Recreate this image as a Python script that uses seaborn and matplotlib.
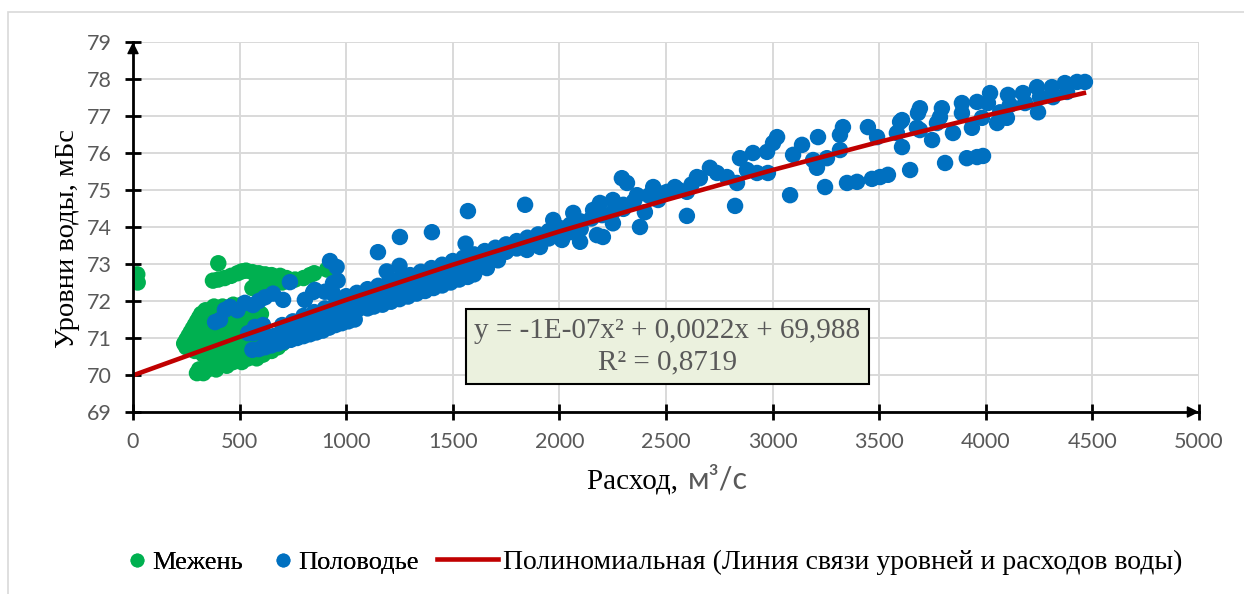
import numpy as np
import pandas as pd
import matplotlib.pyplot as plt
import seaborn as sns
from matplotlib.lines import Line2D
from matplotlib.patches import Rectangle

# --- data (Q, m3/s ; H, m) ---
# Межень (low water)
mezhen_isolated = [(20, 72.72), (22, 72.5)]
mezhen_upper = [(400, 73.02), (375, 72.55), (400, 72.58), (430, 72.62), (460, 72.68),
                (490, 72.75), (510, 72.8), (530, 72.82), (560, 72.78), (590, 72.75),
                (620, 72.72), (650, 72.7), (690, 72.68), (720, 72.62), (760, 72.58),
                (800, 72.62), (830, 72.7), (850, 72.75), (580, 72.5), (600, 72.45),
                (560, 72.35), (620, 72.55), (660, 72.55), (700, 72.5), (910, 72.85)]
mezhen_blob_rows = {
    70.05: [300, 330],
    70.15: [310, 350, 390],
    70.25: [360, 400, 440],
    70.35: [390, 430, 470, 510],
    70.45: [380, 420, 460, 500, 540, 580],
    70.55: [330, 370, 410, 450, 490, 530, 570, 610],
    70.65: [290, 330, 370, 410, 450, 490, 530, 570, 610, 650],
    70.75: [250, 290, 330, 370, 410, 450, 490, 530, 570, 620, 680],
    70.85: [240, 280, 320, 360, 400, 440, 480, 520, 560, 600, 650, 700],
    70.95: [250, 290, 330, 370, 410, 450, 490, 530, 570],
    71.05: [260, 300, 340, 380, 420, 460, 500, 540],
    71.15: [270, 310, 350, 390, 430, 470, 510],
    71.25: [280, 320, 360, 400, 440, 480, 520],
    71.35: [290, 330, 370, 410, 450, 490],
    71.45: [300, 340, 380, 420, 460, 500, 540],
    71.55: [310, 350, 390, 430, 470, 510, 550, 590],
    71.65: [320, 360, 400, 440, 480, 520, 560, 600],
    71.75: [340, 380, 420, 460, 500, 540, 580],
    71.85: [380, 420, 460, 500, 540],
    71.9: [470, 510],
}
mezhen_tail = [(760, 71.2), (820, 71.35), (880, 71.5), (950, 71.7), (1000, 71.85),
               (1050, 71.9), (1080, 71.84), (1110, 71.9)]

# Половодье (flood)
polov_low_chain = [(385, 71.43), (408, 71.49), (431, 71.76), (455, 71.84), (490, 71.75),
                   (525, 71.95), (563, 71.89), (590, 72.0), (619, 72.1), (657, 72.2),
                   (704, 72.03), (736, 72.51), (806, 72.03), (845, 72.24), (853, 72.3),
                   (924, 73.08), (955, 72.92), (938, 72.48), (938, 72.2), (900, 72.25)]
polov_mid_chain = [(540, 71.13), (563, 71.13), (572, 71.3), (610, 71.35)]
polov_low_mass = [(560, 70.68), (590, 70.7), (620, 70.75), (650, 70.8), (680, 70.85),
                  (710, 70.9), (740, 70.95), (770, 71.0), (800, 71.05), (830, 71.1),
                  (860, 71.15), (890, 71.2), (920, 71.28), (950, 71.35), (980, 71.4),
                  (1010, 71.45), (1040, 71.5),
                  (620, 71.0), (660, 71.05), (700, 71.1), (740, 71.2), (780, 71.3),
                  (820, 71.4), (860, 71.5), (900, 71.6), (940, 71.7), (980, 71.8),
                  (1020, 71.9), (1060, 72.0),
                  (650, 70.95), (690, 71.0), (730, 71.05), (770, 71.15), (810, 71.22),
                  (850, 71.3), (890, 71.4), (930, 71.5), (970, 71.58), (1010, 71.65),
                  (1050, 71.75),
                  (700, 71.35), (750, 71.45), (800, 71.6), (850, 71.7), (900, 71.8),
                  (950, 71.9), (1000, 72.0), (1050, 72.1), (1100, 72.2)]
polov_band_upper = [(1000, 72.13), (1050, 72.22), (1100, 72.32), (1150, 72.41), (1200, 72.51),
                    (1250, 72.6), (1300, 72.7), (1350, 72.79), (1400, 72.89), (1450, 72.98),
                    (1500, 73.08), (1550, 73.17), (1600, 73.26), (1650, 73.35), (1700, 73.44),
                    (1750, 73.53), (1800, 73.62), (1850, 73.71), (1900, 73.8), (1950, 73.89),
                    (2000, 73.98), (2050, 74.06), (2100, 74.15), (2150, 74.23), (2200, 74.32),
                    (2250, 74.4), (2300, 74.49)]
polov_band_lower = [(1000, 71.93), (1050, 72.02), (1100, 72.12), (1150, 72.21), (1200, 72.31),
                    (1250, 72.4), (1300, 72.5), (1350, 72.59), (1400, 72.69), (1450, 72.78),
                    (1500, 72.88), (1550, 72.97), (1600, 73.06), (1650, 73.15), (1700, 73.24),
                    (1750, 73.33), (1800, 73.42), (1850, 73.51), (1900, 73.6), (1950, 73.69),
                    (2000, 73.78), (2050, 73.86), (2100, 73.95)]
polov_sub_band = [(1100, 71.8), (1130, 71.85), (1170, 71.9), (1210, 71.98), (1250, 72.05),
                  (1290, 72.12), (1330, 72.2), (1370, 72.27), (1410, 72.35), (1450, 72.42),
                  (1490, 72.5), (1530, 72.58), (1570, 72.65), (1600, 72.72), (1660, 72.89),
                  (1712, 73.1)]
polov_bumps = [(960, 72.55), (1190, 72.8), (1250, 72.95), (1560, 73.55), (1971, 74.19),
               (2065, 74.38), (2158, 74.46)]
polov_outliers = [(1149, 73.32), (1252, 73.73), (1402, 73.86), (1571, 74.43), (1839, 74.6),
                  (1848, 73.38), (1909, 73.46), (2012, 73.65), (2097, 73.6), (2176, 73.78),
                  (2204, 73.73), (2378, 74.0), (2293, 75.32), (2317, 75.19), (2598, 74.3),
                  (2824, 74.57), (3082, 74.86), (3246, 75.08), (3349, 75.19), (3396, 75.22),
                  (3466, 75.3), (3504, 75.35), (3541, 75.41), (3645, 75.54), (3809, 75.73),
                  (3911, 75.86), (3959, 75.89), (3987, 75.92)]
polov_high = [(2190, 74.65), (2251, 74.73), (2251, 74.1), (2300, 74.6), (2350, 74.7),
              (2364, 74.86), (2401, 74.4), (2420, 74.85), (2440, 75.08), (2463, 74.73),
              (2480, 74.9), (2505, 74.95), (2542, 75.08), (2560, 75.0), (2598, 74.95),
              (2620, 75.15), (2645, 75.35), (2659, 75.32), (2706, 75.6), (2739, 75.46),
              (2786, 75.35), (2833, 75.19), (2847, 75.86), (2880, 75.54), (2908, 76.0),
              (2927, 75.46), (2974, 76.03), (2978, 75.46), (3002, 76.27), (3021, 76.43),
              (3096, 75.95), (3138, 76.22), (3190, 75.81), (3208, 75.6), (3213, 76.43),
              (3255, 75.86), (3316, 76.08), (3316, 76.49), (3330, 76.7), (3447, 76.7),
              (3490, 76.43), (3583, 76.54), (3598, 76.84), (3607, 76.16), (3677, 76.68)]
polov_top = [(3607, 76.89), (3682, 77.08), (3691, 77.21), (3691, 76.62), (3748, 76.35),
             (3771, 76.81), (3785, 76.97), (3794, 77.21), (3846, 76.54), (3888, 77.35),
             (3888, 77.08), (3935, 76.68), (3959, 77.38), (3982, 76.95), (4010, 77.35),
             (4020, 77.62), (4053, 76.81), (4067, 77.1), (4099, 76.95), (4104, 77.57),
             (4113, 77.3), (4174, 77.62), (4184, 77.35), (4240, 77.78), (4245, 77.1),
             (4254, 77.51), (4310, 77.78), (4315, 77.51), (4371, 77.89), (4381, 77.65),
             (4428, 77.92), (4465, 77.92)]

# trend line as drawn on the chart
trend_q = [0, 500, 1000, 1500, 2000, 2500, 3000, 3500, 4000, 4460]
trend_h = [69.99, 71.03, 72.03, 72.98, 73.88, 74.73, 75.54, 76.30, 77.01, 77.62]

x_ticks = list(range(0, 5001, 500))
y_ticks = list(range(69, 80))

# --- build dataframe ---
mezhen = mezhen_isolated + mezhen_upper + mezhen_tail
for h, qs in mezhen_blob_rows.items():
    mezhen += [(q, h) for q in qs]
polov = (polov_low_chain + polov_mid_chain + polov_low_mass + polov_band_upper +
         polov_band_lower + polov_sub_band + polov_bumps + polov_outliers +
         polov_high + polov_top)

df = pd.DataFrame(mezhen + polov, columns=['Q', 'H'])
df['season'] = ['Межень'] * len(mezhen) + ['Половодье'] * len(polov)

GREEN = '#00b050'
BLUE = '#0070c0'
RED = '#c00000'
GREY = '#595959'
SERIF = 'Liberation Serif'
SANS = 'Lato'

fig = plt.figure(figsize=(12.44, 5.94), dpi=100)
ax = fig.add_axes([133 / 1244, 1 - 412 / 594, (1199 - 133) / 1244, 370 / 594])

sns.scatterplot(data=df, x='Q', y='H', hue='season',
                palette={'Межень': GREEN, 'Половодье': BLUE},
                s=140, linewidth=0, legend=False, ax=ax, zorder=3)
sns.lineplot(x=trend_q, y=trend_h, color=RED, lw=3.3, ax=ax, zorder=4)

ax.set_xlim(0, 5000)
ax.set_ylim(69, 79)
ax.set_xticks(x_ticks)
ax.set_yticks(y_ticks)
ax.grid(True, color='#d9d9d9', lw=1.4, zorder=0)
ax.set_axisbelow(True)
for s in ['top', 'right']:
    ax.spines[s].set_visible(False)
for s in ['left', 'bottom']:
    ax.spines[s].set_color('black')
    ax.spines[s].set_linewidth(2)
    ax.spines[s].set_zorder(5)
ax.tick_params(direction='inout', length=11, width=2, color='black',
               labelcolor=GREY, labelsize=15.5)
ax.tick_params(axis='y', pad=10)
ax.tick_params(axis='x', pad=9)
for lab in ax.get_xticklabels() + ax.get_yticklabels():
    lab.set_family(SANS)
ax.set_xlabel('')
ax.set_ylabel('')

# axis arrow heads
arrow = dict(arrowstyle='-|>', color='black', lw=1, mutation_scale=18, shrinkA=0, shrinkB=0)
ax.annotate('', xy=(0, 79), xytext=(0, 78.95), annotation_clip=False, arrowprops=arrow)
ax.annotate('', xy=(5000, 69), xytext=(4990, 69), annotation_clip=False, arrowprops=arrow)

# equation box
fig.text(667.5 / 1244, 1 - 346.5 / 594,
         'y = -1E-07x² + 0,0022x + 69,988\nR² = 0,8719',
         ha='center', va='center', family=SERIF, fontsize=21, color=GREY,
         linespacing=1.3, zorder=6,
         bbox=dict(boxstyle='square,pad=0.3', fc='#ebf1de', ec='black', lw=1.5))

# axis titles
fig.text(68 / 1244, 1 - 238 / 594, 'Уровни воды, мБс', rotation=90,
         ha='center', va='center', family=SERIF, fontsize=20.5, color='black')
fig.text(685 / 1244, 1 - 489 / 594, 'Расход, ', ha='right', va='baseline',
         family=SERIF, fontsize=21, color='black')
fig.text(688 / 1244, 1 - 489 / 594, 'м³/с', ha='left', va='baseline',
         family=SANS, fontsize=22, color=GREY)

# legend
h1 = [Line2D([], [], ls='', marker='o', ms=10, color=GREEN, mec='none'),
      Line2D([], [], ls='', marker='o', ms=10, color=BLUE, mec='none')]
leg1 = fig.legend(h1, ['Межень', 'Половодье'], loc='center left',
                  bbox_to_anchor=(126 / 1244, 1 - 562 / 594), ncol=2, frameon=False,
                  prop={'family': SERIF, 'size': 19}, handlelength=0.8,
                  handletextpad=0.2, columnspacing=1.1, borderpad=0, borderaxespad=0)
h2 = [Line2D([], [], color=RED, lw=3.3)]
leg2 = fig.legend(h2, ['Полиномиальная (Линия связи уровней и расходов воды)'],
                  loc='center left', bbox_to_anchor=(437 / 1244, 1 - 562 / 594),
                  frameon=False, prop={'family': SERIF, 'size': 20}, handlelength=2.2,
                  handletextpad=0.18, borderpad=0, borderaxespad=0)
fig.add_artist(leg1)

# chart frame
fig.add_artist(Rectangle((8 / 1244, -0.1), 1.2, 1.1 - 12 / 594, transform=fig.transFigure,
                         fill=False, ec='#d9d9d9', lw=1.2))

fig.savefig('out.png', dpi=100)
